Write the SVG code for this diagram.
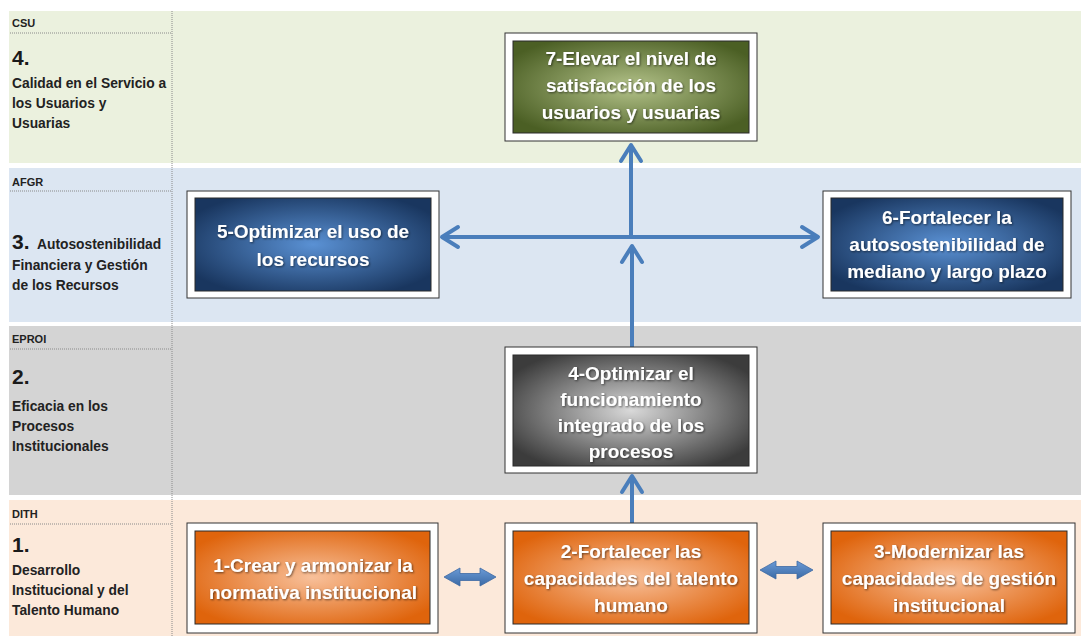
<svg xmlns="http://www.w3.org/2000/svg" width="1083" height="636" viewBox="0 0 1083 636">
<defs>
<style>
.band-g{fill:#ebf1de}
.band-b{fill:#dce6f2}
.band-s{fill:#d4d4d4}
.band-o{fill:#fce9da}
.dot{stroke:#8a8a8a;stroke-width:1;stroke-dasharray:1 1;fill:none}
.hdr{font-family:"Liberation Sans",Arial,sans-serif;font-weight:bold;font-size:11px;fill:#222}
.num{font-family:"Liberation Sans",Arial,sans-serif;font-weight:bold;font-size:21px;fill:#1a1a1a}
.lbl{font-family:"Liberation Sans",Arial,sans-serif;font-weight:bold;font-size:13.8px;fill:#222}
.frame{fill:#ffffff;stroke:#333;stroke-width:1}
.inner{stroke:#2a2a2a;stroke-width:1}
.bt{font-family:"Liberation Sans",Arial,sans-serif;font-weight:bold;font-size:19px;fill:#ffffff;text-anchor:middle;filter:url(#tsh)}
.con{stroke:#4a7ebb;stroke-width:4;fill:none;stroke-linecap:butt}
.blk{fill:url(#blkg);stroke:#3d6aa3;stroke-width:0.8}
</style>
<radialGradient id="gGreen" cx="50%" cy="50%" r="60%">
<stop offset="0" stop-color="#b3c289"/>
<stop offset="1" stop-color="#4b5f24"/>
</radialGradient>
<radialGradient id="gBlue" cx="50%" cy="50%" r="60%">
<stop offset="0" stop-color="#5a91d4"/>
<stop offset="1" stop-color="#19365f"/>
</radialGradient>
<radialGradient id="gGrey" cx="50%" cy="50%" r="60%">
<stop offset="0" stop-color="#d9d9d9"/>
<stop offset="1" stop-color="#3c3c3c"/>
</radialGradient>
<radialGradient id="gOrange" cx="50%" cy="50%" r="60%">
<stop offset="0" stop-color="#f8c09a"/>
<stop offset="1" stop-color="#df640c"/>
</radialGradient>
<linearGradient id="blkg" x1="0" y1="0" x2="0" y2="1">
<stop offset="0" stop-color="#6a9ad6"/>
<stop offset="1" stop-color="#3b6aa5"/>
</linearGradient>
<filter id="tsh" x="-10%" y="-30%" width="120%" height="160%">
<feDropShadow dx="1" dy="1" stdDeviation="0.8" flood-color="#000" flood-opacity="0.55"/>
</filter>
<marker id="chev" viewBox="-20 -14 24 28" refX="0" refY="0" markerWidth="24" markerHeight="28" markerUnits="userSpaceOnUse" orient="auto-start-reverse">
<path d="M-16,-10 L0,0 L-16,10" fill="none" stroke="#4a7ebb" stroke-width="4" stroke-linecap="round" stroke-linejoin="round"/>
</marker>
</defs>

<rect width="1083" height="636" fill="#ffffff"/>

<g id="bands">
<rect class="band-g" x="9" y="11" width="1072" height="152"/>
<rect class="band-b" x="9" y="168" width="1072" height="154"/>
<rect class="band-s" x="9" y="326" width="1072" height="169"/>
<rect class="band-o" x="9" y="500" width="1072" height="136"/>
<line class="dot" x1="172" y1="11" x2="172" y2="636"/>
<line class="dot" x1="10" y1="33" x2="171" y2="33"/>
<line class="dot" x1="10" y1="191" x2="171" y2="191"/>
<line class="dot" x1="10" y1="349" x2="171" y2="349"/>
<line class="dot" x1="10" y1="524" x2="171" y2="524"/>
</g>

<g id="lane-csu">
<text class="hdr" x="12" y="27">CSU</text>
<text class="num" x="12" y="65">4.</text>
<text class="lbl" x="12" y="88">Calidad en el Servicio a</text>
<text class="lbl" x="12" y="108">los Usuarios y</text>
<text class="lbl" x="12" y="128">Usuarias</text>
</g>
<g id="lane-afgr">
<text class="hdr" x="12" y="186">AFGR</text>
<text class="num" x="12" y="249">3.</text>
<text class="lbl" x="37" y="249">Autosostenibilidad</text>
<text class="lbl" x="12" y="270">Financiera y Gestión</text>
<text class="lbl" x="12" y="290">de los Recursos</text>
</g>
<g id="lane-eproi">
<text class="hdr" x="12" y="343">EPROI</text>
<text class="num" x="12" y="384">2.</text>
<text class="lbl" x="12" y="411">Eficacia en los</text>
<text class="lbl" x="12" y="431">Procesos</text>
<text class="lbl" x="12" y="451">Institucionales</text>
</g>
<g id="lane-dith">
<text class="hdr" x="12" y="518">DITH</text>
<text class="num" x="12" y="552">1.</text>
<text class="lbl" x="12" y="575">Desarrollo</text>
<text class="lbl" x="12" y="595">Institucional y del</text>
<text class="lbl" x="12" y="615">Talento Humano</text>
</g>

<g id="connectors">
<line class="con" x1="442" y1="237" x2="818" y2="237" marker-start="url(#chev)" marker-end="url(#chev)"/>
<line class="con" x1="631" y1="239" x2="631" y2="145" marker-end="url(#chev)"/>
<line class="con" x1="632" y1="347" x2="632" y2="246" marker-end="url(#chev)"/>
<line class="con" x1="632" y1="523" x2="632" y2="476" marker-end="url(#chev)"/>
<path class="blk" d="M444,577 L460,568 L460,573.5 L480,573.5 L480,568 L496,577 L480,586 L480,580.5 L460,580.5 L460,586 Z"/>
<path class="blk" d="M760,570 L776,561 L776,566.5 L797,566.5 L797,561 L813,570 L797,579 L797,573.5 L776,573.5 L776,579 Z"/>
</g>

<g id="node7">
<rect class="frame" x="505" y="33" width="252" height="108"/>
<rect class="inner" x="513" y="41" width="236" height="92" fill="url(#gGreen)"/>
<text class="bt" x="631" y="65">7-Elevar el nivel de</text>
<text class="bt" x="631" y="92">satisfacción de los</text>
<text class="bt" x="631" y="119">usuarios y usuarias</text>
</g>

<g id="node5">
<rect class="frame" x="187" y="191" width="252" height="107"/>
<rect class="inner" x="195" y="198" width="236" height="93" fill="url(#gBlue)"/>
<text class="bt" x="313" y="238">5-Optimizar el uso de</text>
<text class="bt" x="313" y="266">los recursos</text>
</g>

<g id="node6">
<rect class="frame" x="823" y="191" width="248" height="107"/>
<rect class="inner" x="831" y="198" width="232" height="93" fill="url(#gBlue)"/>
<text class="bt" x="947" y="224">6-Fortalecer la</text>
<text class="bt" x="947" y="251">autosostenibilidad de</text>
<text class="bt" x="947" y="278">mediano y largo plazo</text>
</g>

<g id="node4">
<rect class="frame" x="505" y="347" width="252" height="126"/>
<rect class="inner" x="513" y="355" width="236" height="111" fill="url(#gGrey)"/>
<text class="bt" x="631" y="380">4-Optimizar el</text>
<text class="bt" x="631" y="406">funcionamiento</text>
<text class="bt" x="631" y="432">integrado de los</text>
<text class="bt" x="631" y="458">procesos</text>
</g>

<g id="node1">
<rect class="frame" x="187" y="523" width="251" height="110"/>
<rect class="inner" x="195" y="531" width="235" height="93" fill="url(#gOrange)"/>
<text class="bt" x="313" y="572">1-Crear y armonizar la</text>
<text class="bt" x="313" y="599">normativa institucional</text>
</g>

<g id="node2">
<rect class="frame" x="505" y="523" width="252" height="110"/>
<rect class="inner" x="513" y="531" width="236" height="93" fill="url(#gOrange)"/>
<text class="bt" x="631" y="558">2-Fortalecer las</text>
<text class="bt" x="631" y="585">capacidades del talento</text>
<text class="bt" x="631" y="612">humano</text>
</g>

<g id="node3">
<rect class="frame" x="823" y="523" width="252" height="110"/>
<rect class="inner" x="831" y="531" width="236" height="93" fill="url(#gOrange)"/>
<text class="bt" x="949" y="558">3-Modernizar las</text>
<text class="bt" x="949" y="585">capacidades de gestión</text>
<text class="bt" x="949" y="612">institucional</text>
</g>
</svg>
